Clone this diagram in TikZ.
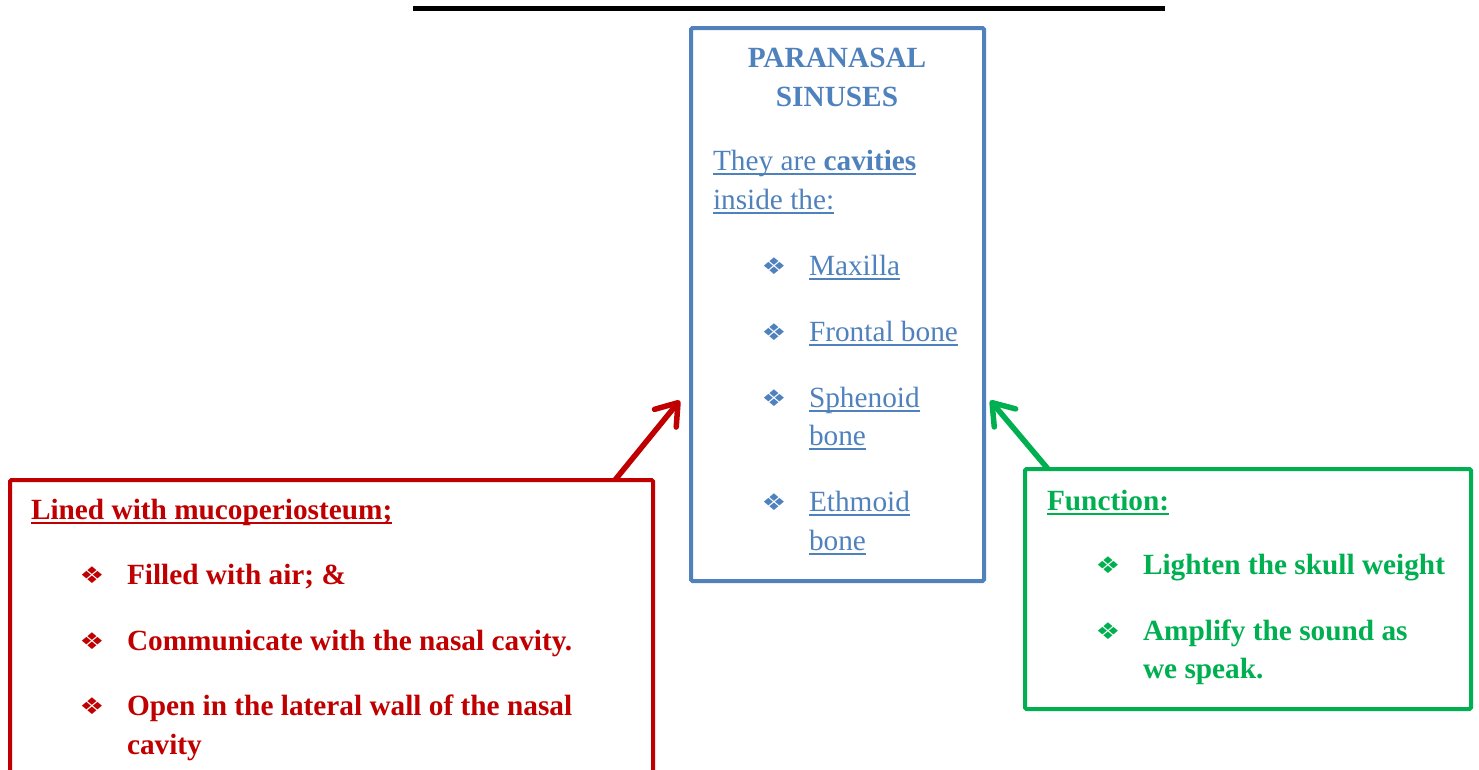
\documentclass[tikz,border=0pt]{standalone}
\usepackage{fontspec}
\setmainfont{Liberation Serif}
\newfontfamily\dejavu{DejaVu Sans}
\newcommand\myul[1]{\setbox0\hbox{#1}\rlap{\rule[-4.6pt]{\wd0}{1.8pt}}\box0}
\usetikzlibrary{arrows.meta}
\definecolor{cblue}{HTML}{4F81BD}
\definecolor{cred}{HTML}{C00000}
\definecolor{cgreen}{HTML}{00B050}
\begin{document}
\begin{tikzpicture}[x=1pt,y=-1pt,
  every node/.style={inner sep=0pt,outer sep=0pt,font=\fontsize{29.3}{38.5}\selectfont},
  txt/.style={anchor=base west},
  bul/.style={anchor=center,xscale=1.2,font=\dejavu\fontsize{23}{23}\selectfont},
  frame/.style={line width=4pt,rounded corners=1.5pt},
  arr/.style={line width=5.5pt,-{Straight Barb[length=20pt,width=28pt,round]},shorten >=2pt}
]
\useasboundingbox (0,0) rectangle (1479,769);
% top rule
\draw[line width=5pt] (413,8.5) -- (1165,8.5);

% blue box
\draw[frame,cblue] (691,28) rectangle (984,581);
\node[anchor=base,text=cblue,font=\fontsize{29.3}{38.5}\bfseries] (t1) at (837,67) {PARANASAL};
\node[anchor=base,text=cblue,font=\fontsize{29.3}{38.5}\bfseries] (t2) at (837,106) {SINUSES};
\node[txt,text=cblue] (b1) at (713,170.5) {\myul{They are \textbf{cavities}}};
\node[txt,text=cblue] (b2) at (713,209.5) {\myul{inside the:}};
\foreach \y/\t [count=\i] in {275/Maxilla,341/Frontal bone,407/Sphenoid,445/bone,511/Ethmoid,550/bone}{
  \node[txt,text=cblue] (bl\i) at (809,\y) {\myul{\t}};
}
\foreach \y [count=\i] in {275,341,407,511}{
  \node[bul,text=cblue] (bb\i) at (774,\y-9) {❖};
}

% red box
\draw[frame,cred] (653,800) -- (653,480) -- (10,480) -- (10,800);
\coordinate (rtop) at (615,480);
\node[txt,text=cred,font=\fontsize{29.3}{38.5}\bfseries] (r0) at (31,519) {\myul{Lined with mucoperiosteum;}};
\foreach \y/\t [count=\i] in {584.5/{Filled with air; \&},650/{Communicate with the nasal cavity.},715.5/{Open in the lateral wall of the nasal},754.5/{cavity}}{
  \node[txt,text=cred,font=\fontsize{29.3}{38.5}\bfseries] (r\i) at (127,\y) {\t};
}
\foreach \y [count=\i] in {584.5,650,715.5}{
  \node[bul,text=cred] (rb\i) at (92,\y-9) {❖};
}

% green box
\draw[frame,cgreen] (1025,469) rectangle (1471,709);
\coordinate (gtop) at (1048,469);
\node[txt,text=cgreen,font=\fontsize{29.3}{38.5}\bfseries] (g0) at (1047,510) {\myul{Function:}};
\foreach \y/\t [count=\i] in {574/{Lighten the skull weight},640/{Amplify the sound as},678/{we speak.}}{
  \node[txt,text=cgreen,font=\fontsize{29.3}{38.5}\bfseries] (g\i) at (1143,\y) {\t};
}
\foreach \y [count=\i] in {574,640}{
  \node[bul,text=cgreen] (gb\i) at (1108,\y-9) {❖};
}

% arrows
\coordinate (rtip) at (681,399);
\coordinate (gtip) at (989,399);
\draw[arr,cred] (rtop) -- (rtip);
\draw[arr,cgreen] (gtop) -- (gtip);
\end{tikzpicture}
\end{document}
